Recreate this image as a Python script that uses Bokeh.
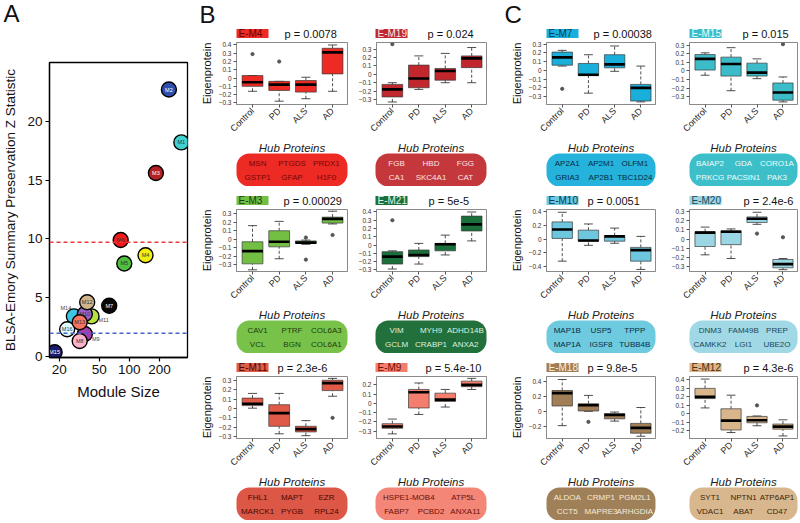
import math
from bokeh.plotting import figure
from bokeh.layouts import row, column
from bokeh.models import (Range1d, FixedTicker, NumeralTickFormatter, ColumnDataSource,
                          BoxAnnotation, Span)
from bokeh.core.properties import value
from bokeh.embed import file_html
from bokeh.resources import INLINE

FONT = "Liberation Sans"

# ---------------- Panel A data ----------------
modules = ["M1", "M2", "M3", "M4", "M5", "M6", "M7", "M14", "M11", "M10", "M12",
           "M16", "M9", "M8", "M13", "M15"]
module_size = [330, 248, 184, 145, 89, 82, 63, 28, 42, 36, 38, 24, 36, 32, 32, 18]
zsummary = [18.2, 22.7, 15.6, 8.6, 7.9, 9.9, 4.3, 3.4, 3.4, 3.6, 4.6, 2.3, 1.9, 1.3, 2.9, 0.35]
strong_z = 9.7
weak_z = 1.96
x_ticks_a = [20, 50, 100, 200]
y_ticks_a = [0, 5, 10, 15, 20]

# styles for panel A
module_colors = ["#3fd0d0", "#2f4fae", "#b52025", "#f2ee12", "#4fbf3f", "#f21a1a", "#0a0a0a",
                 "#3cc6e2", "#b5e23c", "#9a62c8", "#d2b48c", "#e2fbfb", "#a23fae", "#ffb3c8",
                 "#f87462", "#1c1c6e"]
label_colors = ["#333", "#fff", "#fff", "#333", "#333", "#333", "#fff", "#444", "#444", "#333",
                "#333", "#333", "#444", "#333", "#333", "#fff"]
label_dx = [0, 0, 0, 0, 0, 0, 0, -8, 12, 0, 0, 0, 11, 0, 0, 0]
label_dy = [0, 0, 0, 0, 0, 0, 0, -8, 4, 0, 0, 0, 5, 0, 0, 0]

# ---------------- Box plot data ----------------
groups = ["Control", "PD", "ALS", "AD"]

EM4 = dict(lo=[-0.16, -0.28, -0.25, -0.16], q1=[-0.10, -0.15, -0.17, 0.05],
           med=[-0.05, -0.08, -0.08, 0.31], q3=[0.03, -0.04, -0.03, 0.36],
           hi=[0.03, -0.04, 0.01, 0.40], out_g=["Control", "PD"], out_y=[0.29, 0.20])
EM19 = dict(lo=[-0.33, -0.18, -0.10, -0.10], q1=[-0.27, -0.16, -0.07, 0.08],
            med=[-0.18, -0.05, 0.04, 0.19], q3=[-0.12, 0.11, 0.07, 0.22],
            hi=[-0.10, 0.22, 0.25, 0.32], out_g=["Control"], out_y=[0.36])
EM7 = dict(lo=[0.05, -0.26, -0.01, -0.36], q1=[0.06, -0.06, 0.03, -0.35],
           med=[0.15, -0.05, 0.07, -0.20], q3=[0.21, 0.08, 0.18, -0.16],
           hi=[0.23, 0.18, 0.28, 0.05], out_g=["Control"], out_y=[-0.21])
EM15 = dict(lo=[-0.05, -0.23, -0.09, -0.36], q1=[0.01, -0.06, -0.06, -0.34],
            med=[0.14, 0.08, -0.02, -0.25], q3=[0.19, 0.16, 0.09, -0.14],
            hi=[0.21, 0.27, 0.14, -0.07], out_g=["AD"], out_y=[0.31])
EM3 = dict(lo=[-0.36, -0.23, -0.06, 0.18], q1=[-0.29, -0.09, -0.05, 0.19],
           med=[-0.14, -0.03, -0.04, 0.24], q3=[-0.03, 0.10, -0.02, 0.26],
           hi=[0.16, 0.21, -0.01, 0.33], out_g=["ALS", "ALS", "AD"], out_y=[0.02, -0.24, 0.05])
EM21 = dict(lo=[-0.29, -0.23, -0.12, 0.05], q1=[-0.23, -0.14, -0.07, 0.17],
            med=[-0.14, -0.12, 0.01, 0.25], q3=[-0.08, -0.06, 0.02, 0.35],
            hi=[-0.07, 0.02, 0.12, 0.40], out_g=["Control"], out_y=[0.30])
EM10 = dict(lo=[-0.32, -0.09, -0.06, -0.44], q1=[0.01, -0.03, -0.03, -0.32],
            med=[0.14, -0.02, 0.04, -0.16], q3=[0.25, 0.13, 0.05, -0.12],
            hi=[0.39, 0.22, 0.16, 0.04], out_g=[], out_y=[])
EM20 = dict(lo=[-0.17, -0.21, 0.16, -0.33], q1=[-0.08, -0.06, 0.18, -0.31],
            med=[0.07, 0.08, 0.22, -0.27], q3=[0.08, 0.09, 0.24, -0.22],
            hi=[0.13, 0.11, 0.29, -0.21], out_g=["ALS", "AD"], out_y=[0.06, 0.02])
EM11 = dict(lo=[0.003, -0.27, -0.29, 0.13], q1=[0.03, -0.19, -0.25, 0.19],
            med=[0.05, -0.05, -0.22, 0.27], q3=[0.11, 0.04, -0.19, 0.30],
            hi=[0.16, 0.16, -0.13, 0.32], out_g=["AD"], out_y=[-0.10])
EM9 = dict(lo=[-0.33, -0.12, -0.04, 0.15], q1=[-0.27, -0.05, 0.02, 0.18],
           med=[-0.25, 0.12, 0.04, 0.20], q3=[-0.22, 0.15, 0.11, 0.24],
           hi=[-0.17, 0.22, 0.15, 0.27], out_g=[], out_y=[])
EM18 = dict(lo=[-0.19, 0.00, -0.13, -0.33], q1=[0.07, 0.004, -0.10, -0.29],
            med=[0.24, 0.08, -0.05, -0.22], q3=[0.275, 0.10, -0.03, -0.16],
            hi=[0.42, 0.21, -0.01, 0.05], out_g=["PD"], out_y=[-0.14])
EM12 = dict(lo=[0.07, -0.22, -0.14, -0.26], q1=[0.18, -0.19, -0.105, -0.18],
            med=[0.20, -0.08, -0.075, -0.15], q3=[0.30, 0.06, -0.03, -0.12],
            hi=[0.41, 0.22, -0.025, -0.07], out_g=["ALS"], out_y=[0.10])

ticks_a = [-0.3, -0.2, -0.1, 0, 0.1, 0.2, 0.3, 0.4]
ticks_b = [-0.3, -0.2, -0.1, 0, 0.1, 0.2, 0.3]
ticks_c = [-0.4, -0.2, 0, 0.2, 0.4]
ticks_d = [-0.3, -0.2, -0.1, 0, 0.1, 0.2]
ticks_e = [-0.2, 0, 0.2, 0.4]
ticks_f = [-0.2, -0.1, 0, 0.1, 0.2, 0.3, 0.4]

pvals = {"E-M4": "p = 0.0078", "E-M19": "p = 0.024", "E-M7": "p = 0.00038",
         "E-M15": "p = 0.015", "E-M3": "p = 0.00029", "E-M21": "p = 5e-5",
         "E-M10": "p = 0.0051", "E-M20": "p = 2.4e-6", "E-M11": "p = 2.3e-6",
         "E-M9": "p = 5.4e-10", "E-M18": "p = 9.8e-5", "E-M12": "p = 4.3e-6"}

hubs = {
    "E-M4": [["MSN", "PTGDS", "PRDX1"], ["GSTP1", "GFAP", "H1F0"]],
    "E-M19": [["FGB", "HBD", "FGG"], ["CA1", "SKC4A1", "CAT"]],
    "E-M3": [["CAV1", "PTRF", "COL6A3"], ["VCL", "BGN", "COL6A1"]],
    "E-M21": [["VIM", "MYH9", "ADHD14B"], ["GCLM", "CRABP1", "ANXA2"]],
    "E-M11": [["FHL1", "MAPT", "EZR"], ["MARCK1", "PYGB", "RPL24"]],
    "E-M9": [["HSPE1-MOB4", "ATP5L"], ["FABP7", "PCBD2", "ANXA11"]],
    "E-M7": [["AP2A1", "AP2M1", "OLFM1"], ["GRIA3", "AP2B1", "TBC1D24"]],
    "E-M15": [["BAIAP2", "GDA", "CORO1A"], ["PRKCG", "PACSIN1", "PAK3"]],
    "E-M10": [["MAP1B", "USP5", "TPPP"], ["MAP1A", "IGSF8", "TUBB4B"]],
    "E-M20": [["DNM3", "FAM49B", "PREP"], ["CAMKK2", "LGI1", "UBE2O"]],
    "E-M18": [["ALDOA", "CRMP1", "PGM2L1"], ["CCT5", "MAPRE3", "ARHGDIA"]],
    "E-M12": [["SYT1", "NPTN1", "ATP6AP1"], ["VDAC1", "ABAT", "CD47"]],
}

stats = {"E-M4": EM4, "E-M19": EM19, "E-M7": EM7, "E-M15": EM15, "E-M3": EM3,
         "E-M21": EM21, "E-M10": EM10, "E-M20": EM20, "E-M11": EM11, "E-M9": EM9,
         "E-M18": EM18, "E-M12": EM12}
ticks = {"E-M4": ticks_a, "E-M19": ticks_b, "E-M7": ticks_b, "E-M15": ticks_b,
         "E-M3": ticks_b, "E-M21": ticks_a, "E-M10": ticks_c, "E-M20": ticks_b,
         "E-M11": ticks_b, "E-M9": ticks_d, "E-M18": ticks_e, "E-M12": ticks_f}

# ---------------- styles (colors / layout) ----------------
# name: (fill, tag text, pill fill, pill text, ylim, p-text offset)
style = {
    "E-M4": ("#ee2a24", "#6a0000", "#ee2a24", "#720808", (-0.32, 0.43), 48),
    "E-M19": ("#c1272d", "#ffe6e6", "#c4373b", "#fbe3e3", (-0.36, 0.38), 52),
    "E-M7": ("#1aafdb", "#063a55", "#25b3dc", "#062a45", (-0.39, 0.32), 47),
    "E-M15": ("#3cbcc8", "#effcfc", "#3dbfc9", "#f0fbfb", (-0.39, 0.33), 53),
    "E-M3": ("#72bf44", "#1e3d10", "#78c24a", "#1e3d10", (-0.38, 0.35), 47),
    "E-M21": ("#1b6f3a", "#e3f2e3", "#22703c", "#dff0df", (-0.32, 0.43), 53),
    "E-M10": ("#6dc7df", "#0a3550", "#6ecade", "#0a2d45", (-0.47, 0.43), 41),
    "E-M20": ("#9ad6e4", "#1a4a5a", "#a0d8e6", "#1a4858", (-0.35, 0.32), 54),
    "E-M11": ("#e05a48", "#4a0800", "#dc5746", "#4a0800", (-0.32, 0.34), 41),
    "E-M9": ("#f47e6e", "#6a1008", "#f48677", "#6a1008", (-0.38, 0.29), 50),
    "E-M18": ("#a07f56", "#f8efe0", "#a08058", "#f5ead8", (-0.36, 0.46), 41),
    "E-M12": ("#d8b58a", "#4a3010", "#d9b78e", "#3a2608", (-0.29, 0.44), 54),
}

columns_cfg = [
    dict(w=163, lb=44, rb=8, ylabel="Eigenprotein", letter="B", lx=7,
         names=["E-M4", "E-M3", "E-M11"]),
    dict(w=139, lb=20, rb=8, ylabel=None, letter=None, lx=0,
         names=["E-M19", "E-M21", "E-M9"]),
    dict(w=169, lb=52, rb=8, ylabel="Eigenprotein", letter="C", lx=10,
         names=["E-M7", "E-M10", "E-M18"]),
    dict(w=135, lb=26, rb=1, ylabel=None, letter=None, lx=0,
         names=["E-M15", "E-M20", "E-M12"]),
]

HDR1, HDR, PLOT_H, FOOT_H = 41, 22, 99, 46

COMMON = dict(output_backend="svg", toolbar_location=None, title=None)


def blank(w, h):
    f = figure(width=w, height=h, x_range=Range1d(0, w), y_range=Range1d(0, h),
               x_axis_location=None, y_axis_location=None,
               min_border_left=0, min_border_right=0, min_border_top=0, min_border_bottom=0,
               **COMMON)
    f.frame_align = False
    f.grid.visible = False
    f.outline_line_color = None
    return f


def header(w, h, fl, name, letter=None, lx=0):
    fill, ttc, _, _, _, pdx = style[name]
    f = blank(w, h)
    f.quad(left=[fl], right=[fl + 32], bottom=[3.5], top=[12.5], fill_color=fill,
           line_color=None)
    f.text(x=[fl + 2], y=[8], text=[name], text_font=value(FONT), text_font_size="10px",
           text_baseline="middle", text_align="left", text_color=ttc)
    f.text(x=[fl + pdx], y=[2], text=[pvals[name]], text_font=value(FONT),
           text_font_size="11px", text_baseline="bottom", text_align="left",
           text_color="#111")
    if letter:
        f.text(x=[lx], y=[h], text=[letter], text_font=value(FONT), text_font_size="24px",
               text_baseline="top", text_align="left", text_color="#111")
    return f


def footer(w, h, fl, fw, name):
    _, _, pfill, ptc, _, _ = style[name]
    f = blank(w, h)
    f.text(x=[fl + fw / 2], y=[h - 7], text=["Hub Proteins"], text_font=value(FONT),
           text_font_size="11.5px", text_font_style="italic", text_align="center",
           text_baseline="middle", text_color="#222")
    top, bot = h - 13, h - 46
    try:
        box = BoxAnnotation(left=fl, right=fl + fw, top=top, bottom=bot, fill_color=pfill,
                            fill_alpha=1.0, line_color=None, border_radius=13, level="underlay")
        f.add_layout(box)
    except Exception:
        f.quad(left=[fl], right=[fl + fw], top=[top], bottom=[bot], fill_color=pfill,
               line_color=None)
    rows = hubs[name]
    ys = [top - 9.5, top - 23.5]
    for r, yy in zip(rows, ys):
        fr = [0.3, 0.79] if len(r) == 2 else [0.19, 0.5, 0.81]
        f.text(x=[fl + fw * q for q in fr], y=[yy] * len(r), text=r, text_font=value(FONT),
               text_font_size="8px", text_align="center", text_baseline="middle",
               text_color=ptc)
    return f


def boxplot(w, h, lb, rb, name, ylabel):
    st = stats[name]
    fill, _, _, _, ylim, _ = style[name]
    xs = list(range(len(groups)))
    f = figure(width=w, height=h, x_range=Range1d(-0.6, 3.56), y_range=Range1d(*ylim),
               min_border_left=lb, min_border_right=rb, min_border_top=1, min_border_bottom=31,
               **COMMON)
    f.frame_align = False
    f.grid.visible = False
    f.outline_line_color = "#8a8a8a"
    f.outline_line_width = 1
    hw, cw = 0.39, 0.17
    dash = dict(line_dash="3 2", line_color="#222", line_width=0.8)
    f.segment(x0=xs, y0=st["q3"], x1=xs, y1=st["hi"], **dash)
    f.segment(x0=xs, y0=st["lo"], x1=xs, y1=st["q1"], **dash)
    capk = dict(line_color="#222", line_width=0.8)
    f.segment(x0=[x - cw for x in xs], x1=[x + cw for x in xs], y0=st["hi"], y1=st["hi"], **capk)
    f.segment(x0=[x - cw for x in xs], x1=[x + cw for x in xs], y0=st["lo"], y1=st["lo"], **capk)
    f.vbar(x=xs, width=2 * hw, bottom=st["q1"], top=st["q3"], fill_color=fill,
           line_color="#3a3a3a", line_width=0.7)
    f.segment(x0=[x - hw for x in xs], x1=[x + hw for x in xs], y0=st["med"], y1=st["med"],
              line_color="black", line_width=2.6)
    if st["out_g"]:
        f.scatter(x=[groups.index(g) for g in st["out_g"]], y=st["out_y"], size=3.2,
                  fill_color="#555", line_color="#555")
    xa, ya = f.xaxis[0], f.yaxis[0]
    xa.ticker = FixedTicker(ticks=xs)
    xa.major_label_overrides = {i: g for i, g in enumerate(groups)}
    xa.major_label_orientation = math.pi / 4
    xa.major_label_text_font = FONT
    xa.major_label_text_font_size = "9px"
    xa.major_label_text_color = "#222"
    xa.major_label_standoff = 2
    ya.ticker = FixedTicker(ticks=ticks[name])
    ya.major_label_overrides = {0: "0"}
    ya.major_label_text_font = FONT
    ya.major_label_text_font_size = "6.5px"
    ya.major_label_text_color = "#333"
    ya.major_label_standoff = 2
    for ax in (xa, ya):
        ax.axis_line_color = "#8a8a8a"
        ax.major_tick_line_color = "#555"
        ax.major_tick_out = 3
        ax.major_tick_in = 0
        ax.minor_tick_line_color = None
    if ylabel:
        ya.axis_label = ylabel
        ya.axis_label_text_font = FONT
        ya.axis_label_text_font_size = "11px"
        ya.axis_label_text_font_style = "normal"
        ya.axis_label_text_color = "#111"
        ya.axis_label_standoff = 3
    return f


# ---------------- Panel A ----------------
WA = 192
hdrA = blank(WA, 30)
hdrA.text(x=[3], y=[31], text=["A"], text_font=value(FONT), text_font_size="24px",
          text_baseline="top", text_align="left", text_color="#111")

pa = figure(width=WA, height=490, x_axis_type="log", x_range=Range1d(16, 380),
            y_range=Range1d(-0.1, 25),
            min_border_left=39, min_border_right=5, min_border_top=32, min_border_bottom=163,
            **COMMON)
pa.frame_align = False
pa.grid.visible = False
pa.outline_line_color = "black"
pa.outline_line_width = 1.3
pa.add_layout(Span(location=strong_z, dimension="width", line_color="#ee3a3a",
                   line_dash="4 3", line_width=1.5))
pa.add_layout(Span(location=weak_z, dimension="width", line_color="#4a62cc",
                   line_dash="4 3", line_width=1.5))
srcA = ColumnDataSource(dict(x=module_size, y=zsummary, c=module_colors, name=modules,
                             tc=label_colors, dx=label_dx, dy=label_dy))
pa.scatter("x", "y", size=15, fill_color="c", line_color="black", line_width=1.4, source=srcA)
pa.text("x", "y", text="name", text_color="tc", x_offset="dx", y_offset="dy",
        text_font=value(FONT), text_font_size="5.5px", text_align="center",
        text_baseline="middle", source=srcA)
pa.xaxis.ticker = FixedTicker(ticks=x_ticks_a)
pa.xaxis.formatter = NumeralTickFormatter(format="0")
pa.yaxis.ticker = FixedTicker(ticks=y_ticks_a)
pa.xaxis.axis_label = "Module Size"
pa.yaxis.axis_label = "BLSA-Emory Summary Preservation Z Statistic"
for ax in (pa.xaxis[0], pa.yaxis[0]):
    ax.axis_line_color = "black"
    ax.axis_line_width = 1.3
    ax.major_tick_line_color = "black"
    ax.major_tick_line_width = 1.2
    ax.major_tick_out = 4
    ax.major_tick_in = 0
    ax.minor_tick_line_color = None
    ax.major_label_text_font = FONT
    ax.major_label_text_font_size = "13.5px"
    ax.major_label_text_color = "#111"
    ax.major_label_standoff = 3
    ax.axis_label_text_font = FONT
    ax.axis_label_text_font_style = "normal"
    ax.axis_label_text_color = "#111"
    ax.axis_label_standoff = 6
pa.xaxis.axis_label_text_font_size = "15px"
pa.yaxis.axis_label_text_font_size = "13.5px"

colA = column(hdrA, pa, spacing=0)

# ---------------- Panels B & C ----------------
cols = [colA]
for cfg in columns_cfg:
    w, lb, rb = cfg["w"], cfg["lb"], cfg["rb"]
    fw = w - lb - rb
    items = []
    for i, name in enumerate(cfg["names"]):
        if i == 0:
            items.append(header(w, HDR1, lb, name, cfg["letter"], cfg["lx"]))
        else:
            items.append(header(w, HDR, lb, name))
        items.append(boxplot(w, PLOT_H, lb, rb, name, cfg["ylabel"]))
        items.append(footer(w, FOOT_H, lb, fw, name))
    cols.append(column(*items, spacing=0))

layout = row(*cols, spacing=0)

open("out.html", "w").write(file_html(layout, INLINE))
